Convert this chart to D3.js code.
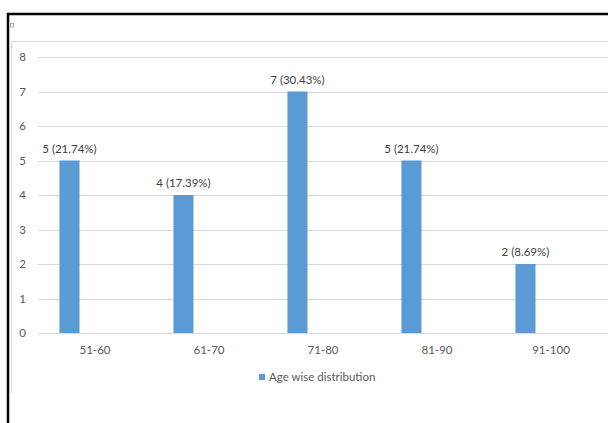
<!DOCTYPE html>
<html>
<head>
<meta charset="utf-8">
<script src="https://cdn.jsdelivr.net/npm/d3@7"></script>
<style>
  body { margin: 0; background: #fff; }
  text { font-family: Lato, "Open Sans", sans-serif; }
</style>
</head>
<body>
<svg id="chart" width="608" height="423"></svg>
<script>
// data
var ageGroups = ['51-60', '61-70', '71-80', '81-90', '91-100'];
var counts = [5, 4, 7, 5, 2];
var percents = ['21.74%', '17.39%', '30.43%', '21.74%', '8.69%'];
var yTicks = [0, 1, 2, 3, 4, 5, 6, 7, 8];
var seriesNames = ['Age wise distribution', ''];

var svg = d3.select('#chart');

// outer frame lines (dark, top and left)
svg.append('line').attr('x1', 7).attr('x2', 608).attr('y1', 14).attr('y2', 14)
    .attr('stroke', '#000').attr('stroke-width', 2.5);
svg.append('line').attr('x1', 8).attr('x2', 8).attr('y1', 13).attr('y2', 423)
    .attr('stroke', '#000').attr('stroke-width', 2.5);

// chart area border (light gray, only top + left show)
svg.append('line').attr('x1', 11.5).attr('x2', 608).attr('y1', 41.5).attr('y2', 41.5)
    .attr('stroke', '#d9d9d9');
svg.append('line').attr('x1', 11.5).attr('x2', 11.5).attr('y1', 41.5).attr('y2', 393)
    .attr('stroke', '#d9d9d9');

// tiny marker square
svg.append('rect').attr('x', 10.5).attr('y', 23.5).attr('width', 3).attr('height', 3.5)
    .attr('fill', '#fff').attr('stroke', '#999').attr('stroke-width', 0.8);

var x = d3.scaleBand().domain(ageGroups).range([38, 608]);
var xs = d3.scaleBand().domain(seriesNames)
    .range([x.bandwidth() * 0.188, x.bandwidth() * 0.54]);
var y = d3.scaleLinear().domain([0, 8]).range([333, 57]);

// gridlines
svg.append('g').selectAll('line').data(yTicks).enter().append('line')
    .attr('x1', 38).attr('x2', 608)
    .attr('y1', function (d) { return Math.round(y(d)) + 0.5; })
    .attr('y2', function (d) { return Math.round(y(d)) + 0.5; })
    .attr('stroke', '#d9d9d9').attr('stroke-width', 1);

// y axis labels
svg.append('g').selectAll('text').data(yTicks).enter().append('text')
    .attr('x', 26).attr('y', function (d) { return y(d) + 4; })
    .attr('text-anchor', 'end').attr('font-size', 11.5).attr('fill', '#595959')
    .text(function (d) { return d; });

// bars
svg.append('g').selectAll('rect').data(ageGroups).enter().append('rect')
    .attr('x', function (d) { return x(d) + xs(seriesNames[0]); })
    .attr('width', xs.bandwidth())
    .attr('y', function (d, i) { return y(counts[i]); })
    .attr('height', function (d, i) { return y(0) - y(counts[i]); })
    .attr('fill', '#5b9bd5');

// value labels
svg.append('g').selectAll('text').data(ageGroups).enter().append('text')
    .attr('x', function (d) { return x(d) + xs(seriesNames[0]) + xs.bandwidth() / 2; })
    .attr('y', function (d, i) { return y(counts[i]) - 8; })
    .attr('text-anchor', 'middle').attr('font-size', 11.5).attr('fill', '#404040')
    .text(function (d, i) { return counts[i] + ' (' + percents[i] + ')'; });

// x axis labels
svg.append('g').selectAll('text').data(ageGroups).enter().append('text')
    .attr('x', function (d) { return x(d) + x.bandwidth() / 2; })
    .attr('y', 354)
    .attr('text-anchor', 'middle').attr('font-size', 11.5).attr('fill', '#595959')
    .text(function (d) { return d; });

// legend
var legend = svg.append('g').attr('transform', 'translate(259,374)');
legend.append('rect').attr('width', 6).attr('height', 6).attr('fill', '#5b9bd5');
legend.append('text').attr('x', 10).attr('y', 7).attr('font-size', 11.5).attr('fill', '#595959')
    .text(seriesNames[0]);
</script>
</body>
</html>
